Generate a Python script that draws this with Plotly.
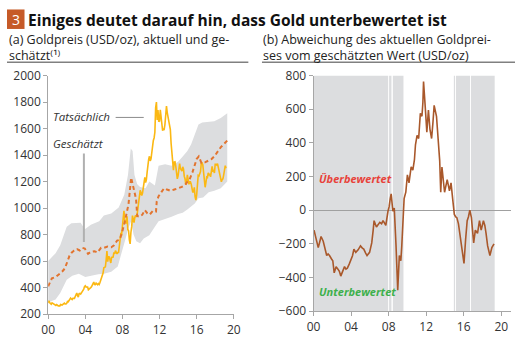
import plotly.graph_objects as go

# ---------------- data ----------------
actual_start = 2000.0
actual_vals = [
    284, 300, 286, 280, 275, 285, 282, 275, 274, 270, 266, 272,
    265, 262, 263, 261, 272, 270, 268, 273, 283, 283, 276, 276,
    282, 296, 294, 302, 314, 321, 314, 310, 319, 317, 319, 333,
    357, 359, 340, 329, 355, 356, 351, 360, 379, 379, 389, 407,
    414, 405, 406, 404, 384, 392, 398, 400, 406, 420, 439, 442,
    424, 423, 434, 429, 422, 431, 424, 438, 456, 470, 476, 510,
    550, 555, 557, 610, 676, 596, 633, 632, 598, 586, 628, 629,
    631, 665, 655, 679, 667, 655, 665, 665, 712, 754, 806, 803,
    889, 922, 980, 909, 888, 889, 939, 839, 829, 760, 730, 816,
    858, 943, 924, 890, 928, 945, 934, 949, 996, 1043, 1127, 1134,
    1118, 1095, 1113, 1149, 1205, 1232, 1193, 1215, 1271, 1343, 1370, 1391,
    1356, 1372, 1424, 1473, 1510, 1529, 1572, 1756, 1800, 1665, 1739, 1652,
    1656, 1742, 1674, 1650, 1585, 1596, 1594, 1630, 1744, 1770, 1721, 1688,
    1670, 1627, 1593, 1487, 1414, 1300, 1286, 1347, 1349, 1316, 1275, 1221,
    1244, 1300, 1336, 1299, 1287, 1279, 1311, 1296, 1239, 1222, 1176, 1200,
    1251, 1227, 1179, 1199, 1199, 1181, 1128, 1118, 1125, 1157, 1086, 1060,
    1097, 1200, 1246, 1242, 1260, 1276, 1337, 1341, 1326, 1267, 1238, 1157,
    1192, 1234, 1231, 1266, 1246, 1260, 1236, 1283, 1315, 1280, 1283, 1265,
    1331, 1331, 1325, 1335, 1304, 1281, 1238, 1201, 1198, 1215, 1220, 1250,
    1291, 1320, 1300,
]
actual_t = [actual_start + i / 12 for i in range(len(actual_vals))]

est_t = [2000.0, 2000.4, 2000.8, 2001.2, 2001.5, 2001.8, 2002.0, 2002.3, 2002.55, 2002.8,
         2003.1, 2003.4, 2003.7, 2003.95, 2004.3, 2004.6, 2005.0, 2005.3, 2005.7, 2006.0,
         2006.4, 2006.8, 2007.1, 2007.43, 2007.7, 2007.96, 2008.3, 2008.66, 2008.94, 2009.18,
         2009.47, 2009.6, 2009.88, 2010.15, 2010.41, 2010.7, 2010.93, 2011.3, 2011.62, 2011.7,
         2011.9, 2012.2, 2012.5, 2012.8, 2013.19, 2013.6, 2014.07, 2014.4, 2014.76, 2015.0,
         2015.29, 2015.55, 2015.81, 2016.0, 2016.23, 2016.52, 2016.9, 2017.21, 2017.6, 2017.91,
         2018.2, 2018.61, 2018.9, 2019.31]
est_v = [410, 470, 480, 500, 520, 545, 585, 640, 665, 680,
         690, 680, 700, 695, 655, 670, 675, 665, 700, 700,
         710, 705, 720, 755, 760, 815, 910, 1030, 1230, 1160,
         1070, 940, 935, 950, 985, 960, 950, 980, 975, 1050,
         1090, 1120, 1150, 1140, 1130, 1140, 1150, 1160, 1175, 1200,
         1225, 1270, 1320, 1370, 1390, 1340, 1345, 1355, 1370, 1390,
         1420, 1460, 1480, 1510]

band_up_t = [2000.0, 2000.8, 2001.3, 2002.0, 2002.5, 2003.5, 2003.95, 2004.6, 2005.5, 2006.0,
             2006.8, 2007.6, 2008.2, 2008.6, 2008.9, 2009.1, 2009.3, 2009.6, 2009.9, 2010.5,
             2010.9, 2011.5, 2011.9, 2012.6, 2013.3, 2014.0, 2014.5, 2015.0, 2015.4, 2015.8,
             2016.2, 2016.6, 2017.3, 2017.9, 2018.6, 2019.0, 2019.3]
band_up_v = [600, 660, 720, 860, 885, 890, 840, 875, 900, 945,
             960, 1005, 1100, 1250, 1450, 1430, 1250, 1180, 1160, 1150,
             1200, 1170, 1320, 1330, 1320, 1350, 1390, 1430, 1480, 1560,
             1630, 1645, 1650, 1655, 1680, 1700, 1715]
band_lo_t = [2000.0, 2000.8, 2001.3, 2002.0, 2002.6, 2003.3, 2004.0, 2004.6, 2005.4, 2006.0,
             2006.8, 2007.5, 2007.9, 2008.3, 2008.65, 2008.94, 2009.2, 2009.5, 2009.9, 2010.3,
             2010.9, 2011.5, 2011.9, 2012.6, 2013.3, 2014.0, 2014.5, 2015.0, 2015.4, 2015.8,
             2016.2, 2016.7, 2017.3, 2017.9, 2018.6, 2019.3]
band_lo_v = [290, 310, 360, 460, 490, 505, 480, 490, 500, 505,
             520, 560, 650, 760, 850, 900, 800, 750, 735, 770,
             795, 860, 900, 920, 935, 955, 965, 990, 1010, 1035,
             1075, 1080, 1120, 1130, 1150, 1200]

dev_t = [2000.05, 2000.2, 2000.35, 2000.5, 2000.65, 2000.8, 2001.03, 2001.2, 2001.4, 2001.55,
         2001.7, 2001.9, 2002.05, 2002.2, 2002.4, 2002.6, 2002.75, 2002.9, 2003.1, 2003.3,
         2003.45, 2003.6, 2003.8, 2004.0, 2004.15, 2004.3, 2004.5, 2004.75, 2005.0, 2005.2,
         2005.35, 2005.55, 2005.7, 2005.97, 2006.2, 2006.35, 2006.45, 2006.7, 2006.9, 2007.06,
         2007.25, 2007.4, 2007.55, 2007.7, 2007.93, 2008.05, 2008.17, 2008.27, 2008.45, 2008.6,
         2008.79, 2008.97, 2009.14, 2009.3, 2009.4, 2009.55, 2009.65, 2009.83, 2010.0, 2010.17,
         2010.4, 2010.58, 2010.75, 2010.86, 2011.03, 2011.2, 2011.38, 2011.55, 2011.65, 2011.72,
         2011.8, 2011.9, 2012.07, 2012.24, 2012.4, 2012.58, 2012.72, 2012.85, 2013.1, 2013.27,
         2013.44, 2013.55, 2013.68, 2013.96, 2014.1, 2014.24, 2014.48, 2014.65, 2014.82, 2015.0,
         2015.15, 2015.27, 2015.44, 2015.69, 2015.86, 2016.03, 2016.2, 2016.37, 2016.5, 2016.65,
         2016.82, 2017.06, 2017.24, 2017.47, 2017.68, 2017.86, 2018.1, 2018.25, 2018.38, 2018.55,
         2018.79, 2019.0, 2019.23]
dev_v = [-118, -150, -175, -222, -190, -156, -184, -230, -269, -260,
         -269, -288, -300, -372, -335, -350, -363, -391, -360, -335,
         -350, -344, -320, -288, -270, -231, -250, -235, -212, -225,
         -231, -255, -269, -250, -194, -120, -62, -100, -85, -72,
         -80, -62, -75, -90, -6, 20, 69, 97, -6, 13,
         -212, -475, -269, -300, -212, -6, 69, 107, 210, 163,
         257, 238, 300, 389, 445, 426, 576, 558, 640, 764,
         650, 614, 464, 595, 482, 426, 520, 623, 558, 426,
         295, 107, 257, 107, 150, 182, 116, 163, 69, -25,
         -40, -44, -81, -175, -222, -316, -175, -62, -40, 0,
         -44, -194, -118, -137, -62, -118, -62, -90, -137, -212,
         -269, -222, -200]

shade_start = [2000.0, 2008.05, 2008.45, 2014.95, 2015.18, 2016.77]
shade_end = [2007.95, 2008.3, 2009.58, 2015.08, 2016.67, 2019.3]

year_ticks = [2000, 2004, 2008, 2012, 2016, 2020]
year_labels = ["00", "04", "08", "12", "16", "20"]
left_yticks = list(range(200, 2001, 200))
right_yticks = list(range(-600, 801, 200))

# ---------------- figure ----------------
W, H = 522, 344
FONT = "Open Sans"
TXT = "#333333"
AX = "#a6a6a6"

def px(x):
    return x / W

def py(y):
    return 1 - y / H

fig = go.Figure()

fig.add_trace(go.Scatter(
    x=band_up_t + band_lo_t[::-1], y=band_up_v + band_lo_v[::-1],
    fill="toself", fillcolor="#dcdddf", line=dict(width=0), mode="lines",
    hoverinfo="skip", xaxis="x", yaxis="y"))
fig.add_trace(go.Scatter(
    x=actual_t, y=actual_vals, mode="lines",
    line=dict(color="#fbb813", width=1.6), xaxis="x", yaxis="y"))
fig.add_trace(go.Scatter(
    x=est_t, y=est_v, mode="lines",
    line=dict(color="#e2742f", width=2, dash="4px,3px"), xaxis="x", yaxis="y"))
fig.add_trace(go.Scatter(
    x=dev_t, y=dev_v, mode="lines",
    line=dict(color="#a9582b", width=1.6), xaxis="x2", yaxis="y2"))

for s, e in zip(shade_start, shade_end):
    fig.add_shape(type="rect", xref="x2", yref="y2", x0=s, x1=e, y0=-600, y1=800,
                  fillcolor="#dcdddf", line=dict(width=0), layer="below")

axis_common = dict(showline=True, linecolor=AX, linewidth=1, ticks="outside",
                   ticklen=4, tickcolor=AX, showgrid=False, zeroline=False,
                   tickfont=dict(family=FONT, size=12, color=TXT), fixedrange=True)

fig.update_layout(
    width=W, height=H, margin=dict(l=0, r=0, t=0, b=0),
    paper_bgcolor="white", plot_bgcolor="rgba(0,0,0,0)", showlegend=False,
    font=dict(family=FONT, color=TXT),
    xaxis=dict(domain=[px(42.3), px(233)], range=[2000, 2020], tickvals=year_ticks,
               ticktext=year_labels, anchor="y", **axis_common),
    yaxis=dict(domain=[py(321), py(70)], range=[200, 2000], tickvals=left_yticks,
               anchor="x", **axis_common),
    xaxis2=dict(domain=[px(315), px(518)], range=[2000, 2021.05], tickvals=year_ticks,
                ticktext=year_labels, anchor="y2", **axis_common),
    yaxis2=dict(domain=[py(318), py(70)], range=[-600, 800], tickvals=right_yticks,
                anchor="x2", **{**axis_common, "zeroline": True, "zerolinecolor": "#a0a0a0",
                                "zerolinewidth": 1}),
)

# Header
fig.add_shape(type="rect", xref="paper", yref="paper", x0=0, x1=px(18), y0=py(21), y1=py(0.5),
              fillcolor="#c65a28", line=dict(width=0))
fig.add_annotation(xref="paper", yref="paper", x=px(9), y=py(11.5), text="3", showarrow=False,
                   font=dict(family=FONT, size=14, color="white"), xanchor="center", yanchor="middle")
fig.add_annotation(xref="paper", yref="paper", x=px(20), y=py(12),
                   text="<b>Einiges deutet darauf hin, dass Gold unterbewertet ist</b>",
                   showarrow=False, font=dict(family=FONT, size=15.5, color="#111111"),
                   xanchor="left", yanchor="middle")
fig.add_annotation(xref="paper", yref="paper", x=0, y=py(21),
                   text="(a) Goldpreis (USD/oz), aktuell und ge-<br>schätzt⁽¹⁾",
                   showarrow=False, align="left", font=dict(family=FONT, size=12.5, color="#222222"),
                   xanchor="left", yanchor="top")
fig.add_annotation(xref="paper", yref="paper", x=px(261), y=py(21),
                   text="(b) Abweichung des aktuellen Goldprei-<br>ses vom geschätzten Wert (USD/oz)",
                   showarrow=False, align="left", font=dict(family=FONT, size=12.5, color="#222222"),
                   xanchor="left", yanchor="top")
fig.add_shape(type="line", xref="paper", yref="paper", x0=0, x1=px(248), y0=py(56), y1=py(56),
              line=dict(color="#808080", width=1.5))
fig.add_shape(type="line", xref="paper", yref="paper", x0=px(262), x1=1, y0=py(56), y1=py(56),
              line=dict(color="#808080", width=1.5))

# Labels in panel (a)
fig.add_annotation(xref="x", yref="y", x=2000.3, y=1690, text="<i>Tatsächlich</i>", showarrow=False,
                   xanchor="left", yanchor="middle", font=dict(family=FONT, size=11.5, color=TXT))
fig.add_shape(type="line", xref="x", yref="y", x0=2007.27, x1=2010.3, y0=1684, y1=1684,
              line=dict(color="#8c8c8c", width=1))
fig.add_annotation(xref="x", yref="y", x=2000.3, y=1484, text="<i>Geschätzt</i>", showarrow=False,
                   xanchor="left", yanchor="middle", font=dict(family=FONT, size=11.5, color=TXT))
fig.add_shape(type="line", xref="x", yref="y", x0=2003.85, x1=2003.85, y0=1412, y1=745,
              line=dict(color="#b0b0b0", width=2))

# Labels in panel (b)
fig.add_annotation(xref="x2", yref="y2", x=2000.4, y=190, text="<b><i>Überbewertet</i></b>",
                   showarrow=False, xanchor="left", yanchor="middle",
                   font=dict(family=FONT, size=11, color="#e8423a"))
fig.add_annotation(xref="x2", yref="y2", x=2000.4, y=-480, text="<b><i>Unterbewertet</i></b>",
                   showarrow=False, xanchor="left", yanchor="middle",
                   font=dict(family=FONT, size=11, color="#3db04b"))

fig.write_html("out.html")
